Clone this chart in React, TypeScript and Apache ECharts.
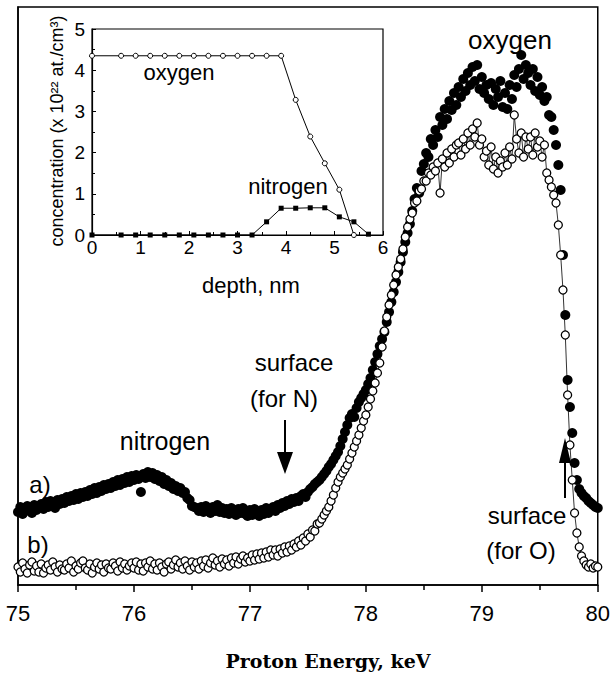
import React, { useEffect, useRef } from "react";
import * as echarts from "echarts";

// Main spectrum: proton energy grid (keV)
const E_START = 75;
const E_STEP = 0.02;

// a) filled circles (arbitrary yield units)
const spectrumA = [
  73, 78, 71, 77, 79, 74, 72, 80, 75, 79,
  81, 76, 83, 78, 84, 80, 77, 85, 81, 86,
  82, 88, 84, 89, 85, 91, 86, 92, 88, 93,
  89, 95, 91, 97, 92, 98, 94, 100, 96, 101,
  97, 103, 99, 105, 100, 106, 102, 108, 103, 109,
  105, 110, 106, 93, 111, 107, 113, 108, 112, 106,
  110, 104, 108, 101, 105, 99, 102, 96, 99, 94,
  97, 92, 93, 87, 85, 79, 78, 77, 74, 78,
  73, 79, 75, 72, 78, 74, 80, 73, 77, 72,
  76, 71, 77, 73, 70, 76, 72, 77, 71, 69,
  75, 70, 76, 72, 69, 75, 71, 77, 72, 76,
  78, 74, 80, 77, 82, 79, 84, 81, 86, 83,
  87, 84, 89, 91, 88, 93, 96, 98, 101, 103,
  105, 108, 111, 114, 118, 121, 125, 129, 133, 139,
  146, 153, 160, 167, 171, 168, 177, 183, 187, 191,
  195, 201, 207, 215, 223, 231, 239, 246, 253, 263,
  273, 283, 293, 303, 313, 323, 333, 343, 352, 361,
  374, 386, 397, 392, 414, 421, 432, 428, 446, 440,
  455, 448, 468, 460, 476, 466, 484, 475, 492, 480,
  498, 488, 506, 494, 512, 500, 518, 504, 520, 496,
  508, 492, 500, 486, 502, 480, 496, 488, 504, 478,
  492, 476, 500, 486, 510, 498, 516, 530, 506, 520,
  512, 500, 516, 494, 508, 490, 498, 484, 488, 470,
  468, 455, 440, 420, 395, 330, 270, 205, 178, 152,
  122, 105, 96, 92, 89, 87, 84, 82, 80, 78,
  77,
];

// b) open circles
const spectrumB = [
  18, 13, 22, 16, 12, 20, 23, 14, 19, 13,
  21, 12, 17, 20, 15, 23, 18, 13, 20, 16,
  15, 21, 17, 24, 13, 19, 16, 22, 24, 17,
  15, 21, 12, 18, 22, 16, 20, 13, 21, 17,
  16, 22, 19, 14, 23, 17, 21, 15, 19, 22,
  17, 23, 15, 21, 14, 22, 18, 24, 16, 21,
  15, 22, 18, 13, 21, 23, 16, 20, 25, 18,
  22, 16, 24, 19, 15, 23, 18, 22, 16, 24,
  19, 25, 17, 22, 27, 20, 24, 18, 26, 21,
  25, 19, 27, 22, 28, 21, 26, 29, 23, 27,
  24, 30, 25, 31, 26, 32, 27, 33, 28, 35,
  30, 35, 29, 36, 32, 38, 33, 39, 35, 41,
  38, 44, 40, 47, 44, 51, 48, 55, 54, 61,
  62, 66, 70, 74, 78, 84, 90, 97, 103, 108,
  112, 116, 120, 126, 132, 138, 144, 150, 157, 164,
  170, 178, 186, 194, 202, 212, 222, 238, 254, 268,
  280, 290, 300, 310, 318, 326, 336, 348, 358, 366,
  372, 382, 384, 394, 396, 404, 404, 412, 410, 418,
  414, 422, 392, 426, 418, 432, 422, 436, 428, 440,
  442, 430, 446, 436, 452, 440, 456, 448, 462, 440,
  446, 428, 434, 420, 438, 416, 428, 412, 424, 418,
  432, 420, 438, 426, 470, 446, 432, 452, 428, 448,
  436, 448, 430, 452, 438, 444, 428, 440, 412, 405,
  398, 390, 382, 360, 330, 295, 250, 190, 140, 105,
  72, 52, 38, 29, 24, 20, 18, 21, 17, 19,
  18,
];

// Inset: concentration depth profiles
const depthNm = [0, 0.6, 0.9, 1.2, 1.5, 1.8, 2.1, 2.4, 2.7, 3.0, 3.3, 3.6, 3.9, 4.2, 4.5, 4.8, 5.1, 5.4, 5.7];
const oxygenConc = [4.35, 4.35, 4.35, 4.35, 4.35, 4.35, 4.35, 4.35, 4.35, 4.35, 4.35, 4.35, 4.35, 3.28, 2.39, 1.74, 1.1, 0];
const nitrogenConc = [0, 0, 0, 0, 0, 0, 0, 0, 0, 0, 0, 0.32, 0.65, 0.65, 0.66, 0.66, 0.44, 0.32, 0.02];

const SANS = "'Liberation Sans', Arial, Helvetica, sans-serif";
const SERIF = "'DejaVu Serif', 'Liberation Serif', serif";

export default function App() {
  const ref = useRef<HTMLDivElement>(null);

  useEffect(() => {
    if (!ref.current) return;
    const chart = echarts.init(ref.current, null, { renderer: "svg" });

    const dataA = spectrumA.map((v, i) => [E_START + i * E_STEP, v]);
    const dataB = spectrumB.map((v, i) => [E_START + i * E_STEP, v]);
    const dataO = oxygenConc.map((v, i) => [depthNm[i], v]);
    const dataN = nitrogenConc.map((v, i) => [depthNm[i], v]);

    const text = (t: string, x: number, y: number, size: number, extra: any = {}, el: any = {}) => ({
      type: "text",
      x,
      y,
      z: 100,
      ...el,
      style: {
        text: t,
        fill: "#000",
        fontSize: size,
        fontFamily: SANS,
        align: "center",
        verticalAlign: "middle",
        ...extra,
      },
    });

    chart.setOption({
      animation: false,
      backgroundColor: "#fff",
      grid: [
        { left: 18, top: 7, width: 584, height: 578, show: true, borderColor: "#000", borderWidth: 1.5, backgroundColor: "transparent" },
        { left: 92, top: 29, width: 291, height: 206, show: true, borderColor: "#000", borderWidth: 1.2, backgroundColor: "#fff", z: 5 },
      ],
      xAxis: [
        {
          type: "value",
          gridIndex: 0,
          min: 75,
          max: 80,
          interval: 1,
          axisLine: { lineStyle: { color: "#000", width: 1.5 } },
          axisTick: { show: true, length: 7, lineStyle: { color: "#000", width: 1.5 } },
          minorTick: { show: true, splitNumber: 2, length: 5, lineStyle: { color: "#000", width: 1.5 } },
          splitLine: { show: false },
          axisLabel: { color: "#000", fontSize: 22, fontFamily: SANS, margin: 17 },
        },
        {
          type: "value",
          gridIndex: 1,
          min: 0,
          max: 6,
          interval: 1,
          z: 6,
          axisLine: { lineStyle: { color: "#000", width: 1.2 } },
          axisTick: { show: true, inside: true, length: 4, lineStyle: { color: "#000" } },
          minorTick: { show: true, splitNumber: 2, length: 3, lineStyle: { color: "#000" } },
          splitLine: { show: false },
          axisLabel: { color: "#000", fontSize: 19, fontFamily: SANS, margin: 3 },
        },
      ],
      yAxis: [
        {
          type: "value",
          gridIndex: 0,
          min: 0,
          max: 578,
          axisLine: { show: true, lineStyle: { color: "#000", width: 1.5 } },
          axisTick: { show: false },
          axisLabel: { show: false },
          splitLine: { show: false },
        },
        {
          type: "value",
          gridIndex: 1,
          min: 0,
          max: 5,
          interval: 1,
          z: 6,
          axisLine: { show: true, lineStyle: { color: "#000", width: 1.2 } },
          axisTick: { show: true, inside: true, length: 4, lineStyle: { color: "#000" } },
          minorTick: { show: true, splitNumber: 2, length: 3, lineStyle: { color: "#000" } },
          splitLine: { show: false },
          axisLabel: { color: "#000", fontSize: 19, fontFamily: SANS, margin: 7 },
        },
      ],
      series: [
        {
          type: "line",
          xAxisIndex: 0,
          yAxisIndex: 0,
          data: dataA,
          symbol: "circle",
          symbolSize: 10,
          showAllSymbol: true,
          itemStyle: { color: "#000" },
          lineStyle: { color: "#000", width: 0 },
          z: 2,
        },
        {
          type: "line",
          xAxisIndex: 0,
          yAxisIndex: 0,
          data: dataB,
          symbol: "circle",
          symbolSize: 8,
          showAllSymbol: true,
          itemStyle: { color: "#fff", borderColor: "#000", borderWidth: 1.3 },
          lineStyle: { color: "#000", width: 0.8 },
          z: 3,
        },
        {
          type: "line",
          xAxisIndex: 1,
          yAxisIndex: 1,
          data: dataO,
          symbol: "circle",
          symbolSize: 5,
          showAllSymbol: true,
          itemStyle: { color: "#fff", borderColor: "#000", borderWidth: 1 },
          lineStyle: { color: "#000", width: 1 },
          z: 7,
        },
        {
          type: "line",
          xAxisIndex: 1,
          yAxisIndex: 1,
          data: dataN,
          symbol: "rect",
          symbolSize: 5,
          showAllSymbol: true,
          itemStyle: { color: "#000" },
          lineStyle: { color: "#000", width: 1 },
          z: 7,
        },
      ],
      graphic: [
        text("concentration (x 10²² at./cm³)", 57, 131, 18, {}, { rotation: Math.PI / 2 }),
        text("oxygen", 179, 72, 22),
        text("nitrogen", 288, 186, 22),
        text("depth, nm", 251, 285, 22),
        text("oxygen", 510, 40, 26),
        text("nitrogen", 165, 441, 25),
        text("surface", 294, 362, 24),
        text("(for N)", 284, 398, 24),
        text("surface", 527, 515, 24),
        text("(for O)", 521, 550, 24),
        text("a)", 40, 484, 24),
        text("b)", 38, 544, 24),
        text("Proton Energy, keV", 328, 661, 19, { fontFamily: SERIF, fontWeight: "bold" }),
        { type: "line", z: 100, shape: { x1: 285, y1: 420, x2: 285, y2: 456 }, style: { stroke: "#000", lineWidth: 2 } },
        { type: "polygon", z: 100, shape: { points: [[277, 452], [293, 452], [285, 474]] }, style: { fill: "#000" } },
        { type: "line", z: 100, shape: { x1: 565, y1: 498, x2: 565, y2: 460 }, style: { stroke: "#000", lineWidth: 2 } },
        { type: "polygon", z: 100, shape: { points: [[559, 463], [571, 463], [565, 438]] }, style: { fill: "#000" } },
      ],
    });

    return () => chart.dispose();
  }, []);

  return <div ref={ref} style={{ position: "fixed", left: 0, top: 0, width: 613, height: 684 }} />;
}
